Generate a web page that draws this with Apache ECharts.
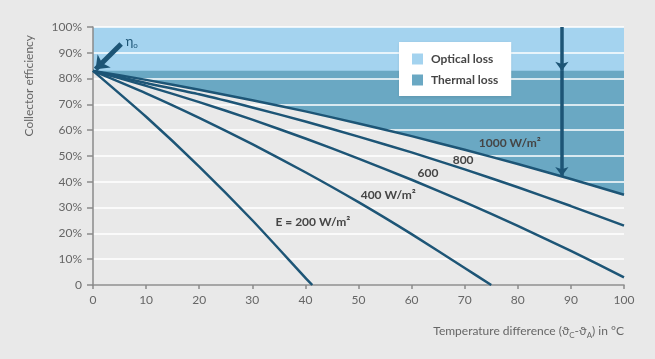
<!DOCTYPE html>
<html>
<head>
<meta charset="utf-8">
<script src="https://cdn.jsdelivr.net/npm/echarts@6/dist/echarts.min.js"></script>
<style>
html,body{margin:0;padding:0;background:#e9e9e9;}
#c{width:655px;height:359px;}
</style>
</head>
<body>
<div id="c"></div>
<script>
// ---- data ----
const xTicks = [0, 10, 20, 30, 40, 50, 60, 70, 80, 90, 100];
const yTickLabels = ['0', '10%', '20%', '30%', '40%', '50%', '60%', '70%', '80%', '90%', '100%'];
const eta0 = 83;
const x1000 = [0, 10, 20, 30, 40, 50, 60, 70, 80, 90, 100];
const eff1000 = [83, 79.5, 75.7, 71.6, 67.3, 62.6, 57.7, 52.4, 46.9, 41.1, 35.0];
const x800 = [0, 10, 20, 30, 40, 50, 60, 70, 80, 90, 100];
const eff800 = [83, 78.3, 73.9, 68.8, 63.4, 57.5, 51.4, 44.8, 37.9, 30.6, 23.0];
const x600 = [0, 10, 20, 30, 40, 50, 60, 70, 80, 90, 100];
const eff600 = [83, 77.2, 70.9, 64.1, 56.8, 49.0, 40.8, 32.1, 22.9, 13.2, 3.0];
const x400 = [0, 10, 20, 30, 40, 50, 60, 70, 75];
const eff400 = [83, 74.3, 64.8, 54.6, 43.7, 32.1, 19.7, 6.6, 0];
const x200 = [0, 10, 20, 30, 40, 41.3];
const eff200 = [83, 65.2, 45.9, 25.1, 2.8, 0];
const curveLabels = ['1000 W/m²', '800', '600', '400 W/m²', 'E = 200 W/m²'];
const curveLabelPos = [[78.5, 55], [69.7, 48.4], [63.1, 43.4], [55.6, 34.9], [41.4, 24.4]];
const lossArrowX = 88.3;
const lossArrowEnd = 42.2;
const legendNames = ['Optical loss', 'Thermal loss'];

// ---- styling ----
const bg = '#e9e9e9';
const lightBlue = '#a4d3ef';
const darkBlue = '#6aa8c3';
const curveColor = '#1d5576';
const textColor = '#666';
const font = 'Lato, "Open Sans", sans-serif';

const zip = (xs, ys) => xs.map((x, i) => [x, ys[i]]);

const chart = echarts.init(document.getElementById('c'), null, {renderer: 'canvas'});

function curve(name, xs, ys, idx, extra) {
  const s = {
    name: name, type: 'line', z: 3, data: zip(xs, ys), showSymbol: false, smooth: 0.2,
    lineStyle: {color: curveColor, width: 2.5}, itemStyle: {color: curveColor}, silent: true,
    markPoint: {
      symbol: 'circle', symbolSize: 0, silent: true, animation: false,
      label: {show: true, position: 'inside', color: '#454545', fontFamily: font, fontWeight: 'bold', fontSize: 12,
        formatter: () => curveLabels[idx]},
      data: [{coord: curveLabelPos[idx]}]
    }
  };
  return Object.assign(s, extra || {});
}

const option = {
  animation: false,
  backgroundColor: bg,
  textStyle: {fontFamily: font},
  grid: {left: 93, right: 31, top: 27, bottom: 74},
  legend: {
    data: legendNames.map(n => ({name: n, icon: 'rect'})),
    orient: 'vertical', left: 399, top: 42,
    backgroundColor: '#fff', padding: [11, 13, 10, 13],
    itemWidth: 11, itemHeight: 11, itemGap: 9, selectedMode: false,
    shadowColor: 'rgba(0,0,0,0.12)', shadowBlur: 3, shadowOffsetY: 1,
    textStyle: {color: '#454545', fontWeight: 'bold', fontSize: 12, fontFamily: font, padding: [0, 0, 0, 3]}
  },
  xAxis: {
    type: 'value', min: 0, max: 100, interval: 10, z: 2,
    axisLine: {lineStyle: {color: '#8a8a8a', width: 1.5}},
    axisTick: {show: true, length: 4, lineStyle: {color: '#8a8a8a', width: 1.5}},
    axisLabel: {color: textColor, fontSize: 12, margin: 9, fontFamily: font},
    splitLine: {show: false}
  },
  yAxis: {
    type: 'value', min: 0, max: 100, interval: 10, z: 2,
    axisLine: {show: true, lineStyle: {color: '#8a8a8a', width: 1.5}},
    axisTick: {show: true, length: 6, lineStyle: {color: '#8a8a8a', width: 1.5}},
    axisLabel: {color: textColor, fontSize: 12, margin: 11, fontFamily: font,
      formatter: (v) => yTickLabels[Math.round(v / 10)]},
    splitLine: {show: true, lineStyle: {color: '#ffffff', width: 1.5}}
  },
  graphic: [
    {type: 'text', left: 23, top: 35, rotation: Math.PI / 2, silent: true,
      style: {text: 'Collector efficiency', fill: textColor, font: '12px ' + font}},
    {type: 'text', right: 31, top: 325, silent: true,
      style: {text: 'Temperature difference (ϑ{s|C}-ϑ{s|A}) in °C', fill: textColor, font: '12px ' + font,
        rich: {s: {fontSize: 8, padding: [9, 0, 0, 0], fill: textColor, fontFamily: font}}}}
  ],
  series: [
    {name: 'Optical loss', type: 'line', z: 1, silent: true, showSymbol: false,
      data: [[0, 100], [100, 100]], lineStyle: {width: 0}, itemStyle: {color: lightBlue},
      areaStyle: {color: lightBlue, opacity: 1}},
    {name: 'Thermal loss', type: 'line', z: 1, silent: true, showSymbol: false,
      data: [[0, eta0], [100, eta0]], lineStyle: {width: 0}, itemStyle: {color: darkBlue},
      areaStyle: {color: darkBlue, opacity: 1}},
    {name: 'cover', type: 'line', z: 1, silent: true, showSymbol: false, smooth: 0.2,
      data: zip(x1000, eff1000), lineStyle: {width: 0}, itemStyle: {color: bg},
      areaStyle: {color: bg, opacity: 1}},
    curve('E1000', x1000, eff1000, 0, {
      markLine: {
        silent: true, animation: false, symbol: ['none', 'arrow'], label: {show: false},
        data: [
          [{coord: [lossArrowX, 100], symbol: 'none', lineStyle: {color: curveColor, width: 3.5, type: 'solid'}},
           {coord: [lossArrowX, eta0], symbol: 'arrow', symbolSize: [10, 9]}],
          [{coord: [lossArrowX, eta0], symbol: 'none', lineStyle: {color: curveColor, width: 3.5, type: 'solid'}},
           {coord: [lossArrowX, lossArrowEnd], symbol: 'arrow', symbolSize: [10, 9]}],
          [{coord: [5.3, 93.4], symbol: 'none', lineStyle: {color: curveColor, width: 5, type: 'solid'}},
           {coord: [0.5, 83.6], symbol: 'arrow', symbolSize: [14, 12]}]
        ]
      }
    }),
    curve('E800', x800, eff800, 1),
    curve('E600', x600, eff600, 2),
    curve('E400', x400, eff400, 3),
    curve('E200', x200, eff200, 4, {
      markPoint: {
        symbol: 'circle', symbolSize: 0, silent: true, animation: false,
        label: {show: true, position: 'inside', color: '#454545', fontFamily: font, fontWeight: 'bold', fontSize: 12},
        data: [
          {coord: curveLabelPos[4], label: {formatter: curveLabels[4]}},
          {coord: [7.3, 94.4], label: {formatter: 'η{s|o}', color: curveColor, fontWeight: 'normal', fontSize: 13,
            rich: {s: {fontSize: 8, padding: [7, 0, 0, 0], color: curveColor}}}}
        ]
      }
    })
  ]
};
chart.setOption(option);
</script>
</body>
</html>
